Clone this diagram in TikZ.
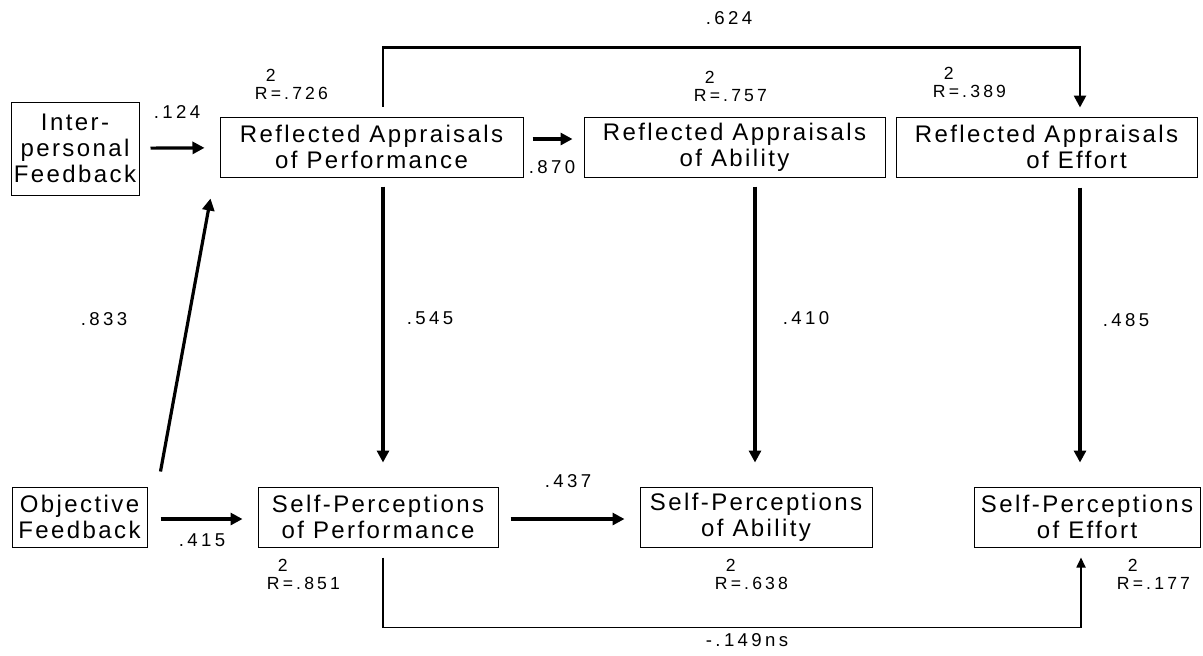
\documentclass[tikz,border=0pt]{standalone}
\usepackage{fontspec}
\setmainfont{Liberation Sans}[LetterSpace=10, Ligatures=CommonOff]
\newfontfamily\coeffont{Liberation Sans}[LetterSpace=18, Ligatures=CommonOff]
\usetikzlibrary{positioning, arrows.meta, calc}

\tikzset{
  box/.style={draw, line width=0.5pt, minimum height=30pt, inner sep=0pt,
              align=center, font=\fontsize{12}{13}\selectfont},
  coef/.style={font=\coeffont\fontsize{9.3}{10}\selectfont, inner sep=0pt},
  rsq/.style={font=\coeffont\fontsize{8.8}{9.2}\selectfont, align=left,
              inner sep=0pt, anchor=north west},
  arr/.style={line width=1.6pt, -{Triangle[length=6pt,width=6pt]}},
}

\begin{document}
\begin{tikzpicture}[x=0.5pt, y=-0.5pt]
  \useasboundingbox (0,0) rectangle (1203,655);

  % top row
  \node[box, minimum width=64pt, minimum height=46.5pt] (inter) at (75,148.5) {Inter-\\personal\\Feedback};
  \node[box, minimum width=151.5pt] (rap) at (371.5,147) {Reflected Appraisals\\of Performance};
  \node[box, minimum width=150.5pt] (raa) at (734.5,147) {Reflected Appraisals\\of Ability};
  \node[box, minimum width=150.5pt] (rae) at (1046.5,147) {Reflected Appraisals\\\hspace*{30pt}of Effort};

  % bottom row
  \node[box, minimum width=67.5pt] (obj) at (79.5,517) {Objective\\Feedback};
  \node[box, minimum width=120pt] (spp) at (378,517) {Self-Perceptions\\of Performance};
  \node[box, minimum width=116pt] (spa) at (756,517) {Self-Perceptions\\of Ability};
  \node[box, minimum width=113pt] (spe) at (1087,517) {Self-Perceptions\\of Effort};

  % R squared
  \node[rsq] (r726) at ($(rap.north west)+(35,-48)$) {\hspace*{5.5pt}2\\R=.726};
  \node[rsq] (r757) at ($(raa.north west)+(110,-46)$) {\hspace*{5.5pt}2\\R=.757};
  \node[rsq] (r389) at ($(rae.north west)+(37,-50)$) {\hspace*{5.5pt}2\\R=.389};
  \node[rsq] (r851) at ($(spp.south west)+(9,11)$) {\hspace*{5.5pt}2\\R=.851};
  \node[rsq] (r638) at ($(spa.south west)+(75,11)$) {\hspace*{5.5pt}2\\R=.638};
  \node[rsq] (r177) at ($(spe.south west)+(143,11)$) {\hspace*{5.5pt}2\\R=.177};

  % paths
  \draw[arr, shorten <=5.5pt, shorten >=7.5pt] (inter) -- (rap);
  \draw[arr, shorten <=4.5pt, shorten >=5.5pt] ($(rap.east)+(0,-8)$) -- ($(raa.west)+(0,-8)$);
  \draw[arr] ($(obj.north east)+(13,-15)$) -- ($(rap.south west)+(-9,21)$);
  \draw[arr, shorten <=6.5pt, shorten >=7.5pt] ($(obj.east)+(0,2)$) -- ($(spp.west)+(0,2)$);
  \draw[arr, shorten <=6pt, shorten >=7.5pt] ($(spp.east)+(0,2)$) -- ($(spa.west)+(0,2)$);
  \draw[arr] ($(rap.south)+(11.5,9)$) -- ($(spp.north)+(5,-24)$);
  \draw[arr] ($(raa.south)+(20.5,9)$) -- ($(spa.north)+(-1,-24)$);
  \draw[arr] ($(rae.south)+(33.5,10)$) -- ($(spe.north)+(-7,-24)$);
  \draw[line width=1.3pt, -{Triangle[length=6pt,width=6pt]}]
    ($(rap.north)+(11.5,-10)$) |- ($(rae.north)+(33.5,-69)$) -- ($(rae.north)+(33.5,-9)$);
  \draw[line width=0.9pt, -{Triangle[length=5pt,width=4.5pt]}]
    ($(spp.south)+(5,10)$) |- ($(spe.south)+(-6,80)$) -- ($(spe.south)+(-6,10)$);

  % coefficients
  \node[coef] (c124) at (177,112) {.124};
  \node[coef] (c870) at (552,167) {.870};
  \node[coef] (c624) at (729,18) {.624};
  \node[coef] (c833) at (104,319) {.833};
  \node[coef] (c545) at (430,318) {.545};
  \node[coef] (c410) at (806,318) {.410};
  \node[coef] (c485) at (1126,320) {.485};
  \node[coef] (c437) at (568,481) {.437};
  \node[coef] (c415) at (202,540) {.415};
  \node[coef] (c149) at (747,640) {-.149ns};
\end{tikzpicture}
\end{document}
